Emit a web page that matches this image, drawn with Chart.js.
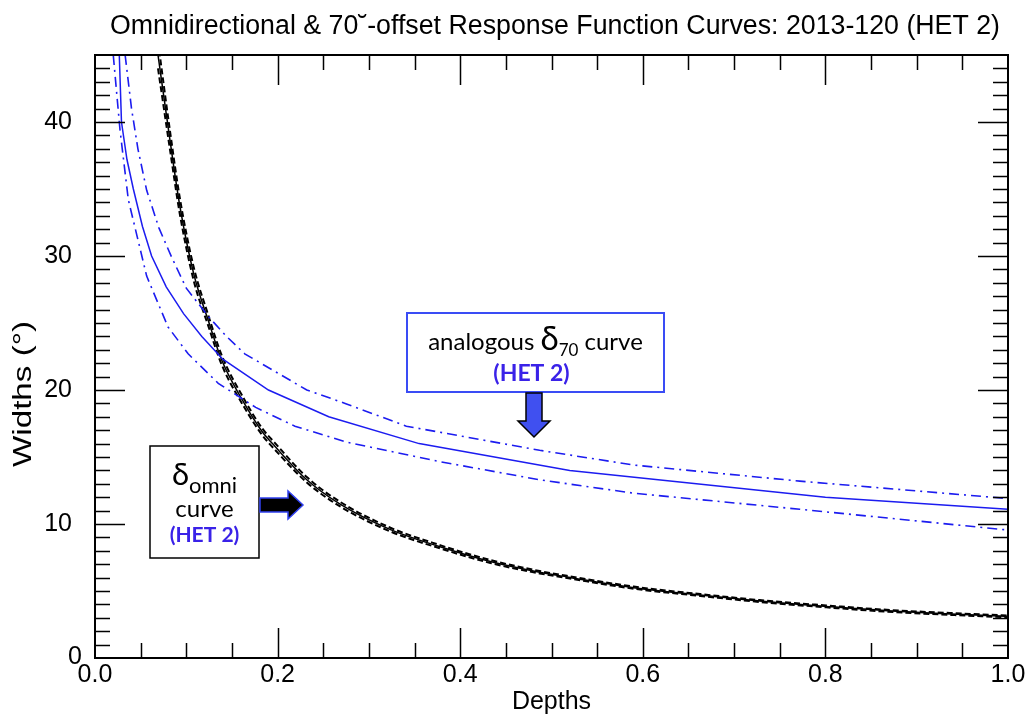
<!DOCTYPE html>
<html>
<head>
<meta charset="utf-8">
<script src="https://cdn.jsdelivr.net/npm/chart.js@4/dist/chart.umd.min.js"></script>
<style>
html,body{margin:0;padding:0;background:#fff;}
#wrap{width:1030px;height:721px;}
</style>
</head>
<body>
<div id="wrap"><canvas id="c" width="1030" height="721"></canvas></div>
<script>
// omni curve (black), three nearly coincident lines
let blackX=[0.069,0.082,0.093,0.108,0.124,0.139,0.161,0.183,0.197,0.232,0.268,0.323,0.378,0.433,0.487,0.517,0.59,0.663,0.728,0.801,0.874,1.0];
let blackMid=[45,38.7,33.7,28.7,25.2,22.2,19.3,16.9,15.8,13.3,11.5,9.6,8.3,7.2,6.4,6.05,5.25,4.7,4.25,3.85,3.5,3.1];
let blackHi=[46.0,39.4,34.3,29.2,25.6,22.55,19.6,17.15,16.05,13.5,11.67,9.74,8.42,7.31,6.49,6.13,5.33,4.77,4.32,3.92,3.57,3.17];
let blackLo=[44.0,38.0,33.1,28.2,24.8,21.85,19.0,16.65,15.55,13.1,11.33,9.46,8.18,7.09,6.31,5.97,5.17,4.63,4.18,3.78,3.43,3.03];

// delta-70 curve (blue) with its upper/lower bands
let blueMidX=[0.0266,0.029,0.035,0.042,0.052,0.062,0.078,0.097,0.117,0.14,0.19,0.256,0.355,0.52,0.8,1.0];
let blueMid=[45,40,37.2,35,32.2,30,27.7,25.7,24,22.3,20,18,16,14,12,11.1];
let blueHiX=[0.033,0.04,0.047,0.0566,0.07,0.084,0.1,0.124,0.144,0.164,0.232,0.274,0.341,0.487,0.59,0.772,1.0];
let blueHi=[45,41,38,34.9,32.1,29.9,27.6,25.5,24.0,22.7,20.0,19.0,17.3,15.5,14.4,13.2,11.9];
let blueLoX=[0.02,0.0274,0.0365,0.0566,0.08,0.102,0.135,0.176,0.219,0.276,0.378,0.487,0.59,0.772,1.0];
let blueLo=[45,39.4,34.2,28.5,24.7,22.7,20.5,18.7,17.3,16.1,14.65,13.3,12.3,11.1,9.55];

let xTicks=[0,0.2,0.4,0.6,0.8,1.0];
let yTicks=[0,10,20,30,40];

const BLUE="#1c1cf0";
const HET="#3a22e8";

function pts(xs,ys){
return xs.map((x,i)=>({x:x,y:ys[i]}));
}

// frame + inward ticks on all four sides
const frame={
id:"frame",
afterDatasetsDraw(chart){
let ctx=chart.ctx,a=chart.chartArea,sx=chart.scales.x,sy=chart.scales.y;
ctx.save();
ctx.strokeStyle="#000";
ctx.lineWidth=1.5;
for(let i=1;i<20;i++){
let px=Math.round(sx.getPixelForValue(i*0.05))+0.5;
let len=(i%4==0)?30:15;
ctx.beginPath();
ctx.moveTo(px,a.bottom);ctx.lineTo(px,a.bottom-len);
ctx.moveTo(px,a.top);ctx.lineTo(px,a.top+len);
ctx.stroke();
}
for(let v=1;v<45;v++){
let py=Math.round(sy.getPixelForValue(v))+0.5;
let len=(v%10==0)?30:15;
ctx.beginPath();
ctx.moveTo(a.left,py);ctx.lineTo(a.left+len,py);
ctx.moveTo(a.right,py);ctx.lineTo(a.right-len,py);
ctx.stroke();
}
ctx.lineWidth=2;
ctx.strokeRect(a.left,a.top,a.right-a.left,a.bottom-a.top);
ctx.restore();
}
};

// title, y title, the odd "0" label and the two text boxes with arrows
const notes={
id:"notes",
afterDraw(chart){
let ctx=chart.ctx,a=chart.chartArea,sy=chart.scales.y;
ctx.save();
ctx.fillStyle="#000";
ctx.textBaseline="alphabetic";

// title, stretched to the reference width
let title="Omnidirectional & 70\u02D8-offset Response Function Curves: 2013-120 (HET 2)";
ctx.font="27px 'Liberation Sans'";
let tw=ctx.measureText(title).width;
ctx.save();
ctx.translate(555,34);
ctx.scale(890/tw,1);
ctx.textAlign="center";
ctx.fillText(title,0,0);
ctx.restore();

// y title
let yt="Widths (\u00B0)";
ctx.font="26px 'Liberation Sans'";
let yw=ctx.measureText(yt).width;
ctx.save();
ctx.translate(31,394);
ctx.rotate(-Math.PI/2);
ctx.scale(146/yw,1);
ctx.textAlign="center";
ctx.fillText(yt,0,0);
ctx.restore();

// zero label sits lower-left of the others
ctx.font="25px 'Liberation Sans'";
ctx.textAlign="right";
ctx.textBaseline="middle";
ctx.fillText("0",82,sy.getPixelForValue(0)-1);
ctx.textBaseline="alphabetic";

// box 1
let b={l:407,t:313,r:664,b:392};
ctx.fillStyle="#fff";
ctx.fillRect(b.l,b.t,b.r-b.l,b.b-b.t);
ctx.strokeStyle="#3a4cf5";
ctx.lineWidth=2;
ctx.strokeRect(b.l,b.t,b.r-b.l,b.b-b.t);
let parts=[["analogous ","24px Lato",0],["\u03B4","33px Lato",0],["70","17px Lato",6],[" curve","24px Lato",0]];
let w=0;
parts.forEach(p=>{ctx.font=p[1];w+=ctx.measureText(p[0]).width;});
let x=(b.l+b.r)/2-w/2;
ctx.textAlign="left";
ctx.fillStyle="#000";
parts.forEach(p=>{ctx.font=p[1];ctx.fillText(p[0],x,350+p[2]);x+=ctx.measureText(p[0]).width;});
ctx.font="bold 23px Lato";
ctx.textAlign="center";
ctx.fillStyle=HET;
ctx.fillText("(HET 2)",(b.l+b.r)/2-4,381);

// down arrow
let cx=534;
ctx.beginPath();
ctx.moveTo(cx-8,b.b+1);ctx.lineTo(cx+8,b.b+1);ctx.lineTo(cx+8,421);
ctx.lineTo(cx+16,421);ctx.lineTo(cx,437);ctx.lineTo(cx-16,421);
ctx.lineTo(cx-8,421);ctx.closePath();
ctx.fillStyle="#4050f0";ctx.fill();
ctx.strokeStyle="#000";ctx.lineWidth=1.5;ctx.stroke();

// box 2
let c={l:150,t:446,r:259,b:558};
ctx.fillStyle="#fff";
ctx.fillRect(c.l,c.t,c.r-c.l,c.b-c.t);
ctx.strokeStyle="#000";
ctx.lineWidth=1.5;
ctx.strokeRect(c.l,c.t,c.r-c.l,c.b-c.t);
let mx=(c.l+c.r)/2;
ctx.textAlign="left";
ctx.fillStyle="#000";
ctx.font="31px Lato";let w1=ctx.measureText("\u03B4").width;
ctx.font="22px Lato";let w2=ctx.measureText("omni").width;
let sx0=mx-(w1+w2)/2;
ctx.font="31px Lato";ctx.fillText("\u03B4",sx0,485);
ctx.font="22px Lato";ctx.fillText("omni",sx0+w1,493);
ctx.textAlign="center";
ctx.font="24px Lato";ctx.fillText("curve",mx,517);
ctx.font="bold 21px Lato";ctx.fillStyle=HET;
ctx.fillText("(HET 2)",mx,542);

// right arrow
let cy=505;
ctx.beginPath();
ctx.moveTo(c.r+1,cy-7);ctx.lineTo(288,cy-7);ctx.lineTo(288,cy-14);
ctx.lineTo(303,cy);ctx.lineTo(288,cy+14);ctx.lineTo(288,cy+7);
ctx.lineTo(c.r+1,cy+7);ctx.closePath();
ctx.fillStyle="#000";ctx.fill();
ctx.strokeStyle="#3040f0";ctx.lineWidth=1.5;ctx.stroke();
ctx.restore();
}
};

new Chart(document.getElementById("c"),{
type:"line",
data:{
datasets:[
{data:pts(blueLoX,blueLo),borderColor:BLUE,borderWidth:1.6,borderDash:[10,5,2,5],tension:0},
{data:pts(blueHiX,blueHi),borderColor:BLUE,borderWidth:1.6,borderDash:[10,5,2,5],tension:0},
{data:pts(blueMidX,blueMid),borderColor:BLUE,borderWidth:1.5,tension:0},
{data:pts(blackX,blackHi),borderColor:"#000",borderWidth:2,borderDash:[6,3],cubicInterpolationMode:"monotone"},
{data:pts(blackX,blackLo),borderColor:"#000",borderWidth:2,borderDash:[6,3],cubicInterpolationMode:"monotone"},
{data:pts(blackX,blackMid),borderColor:"#000",borderWidth:1.5,cubicInterpolationMode:"monotone"}
]
},
options:{
responsive:false,
animation:false,
events:[],
layout:{padding:{top:55,right:22,left:0,bottom:0}},
elements:{point:{radius:0}},
plugins:{legend:{display:false},tooltip:{enabled:false},title:{display:false}},
scales:{
x:{
type:"linear",min:0,max:1,
grid:{display:false,drawTicks:false},
border:{display:false},
afterBuildTicks:s=>{s.ticks=xTicks.map(v=>({value:v}));},
afterFit:s=>{s.height=63;},
ticks:{font:{family:"Liberation Sans",size:25},color:"#000",padding:2,maxRotation:0,callback:v=>v.toFixed(1)},
title:{display:true,text:"Depths",font:{family:"Liberation Sans",size:25},color:"#000",padding:{top:0,bottom:4}}
},
y:{
min:0,max:45,
grid:{display:false,drawTicks:false},
border:{display:false},
afterBuildTicks:s=>{s.ticks=yTicks.map(v=>({value:v}));},
afterFit:s=>{s.width=95;},
ticks:{font:{family:"Liberation Sans",size:25},color:"#000",padding:23,callback:v=>v==0?"":v}
}
}
},
plugins:[frame,notes]
});
</script>
</body>
</html>
